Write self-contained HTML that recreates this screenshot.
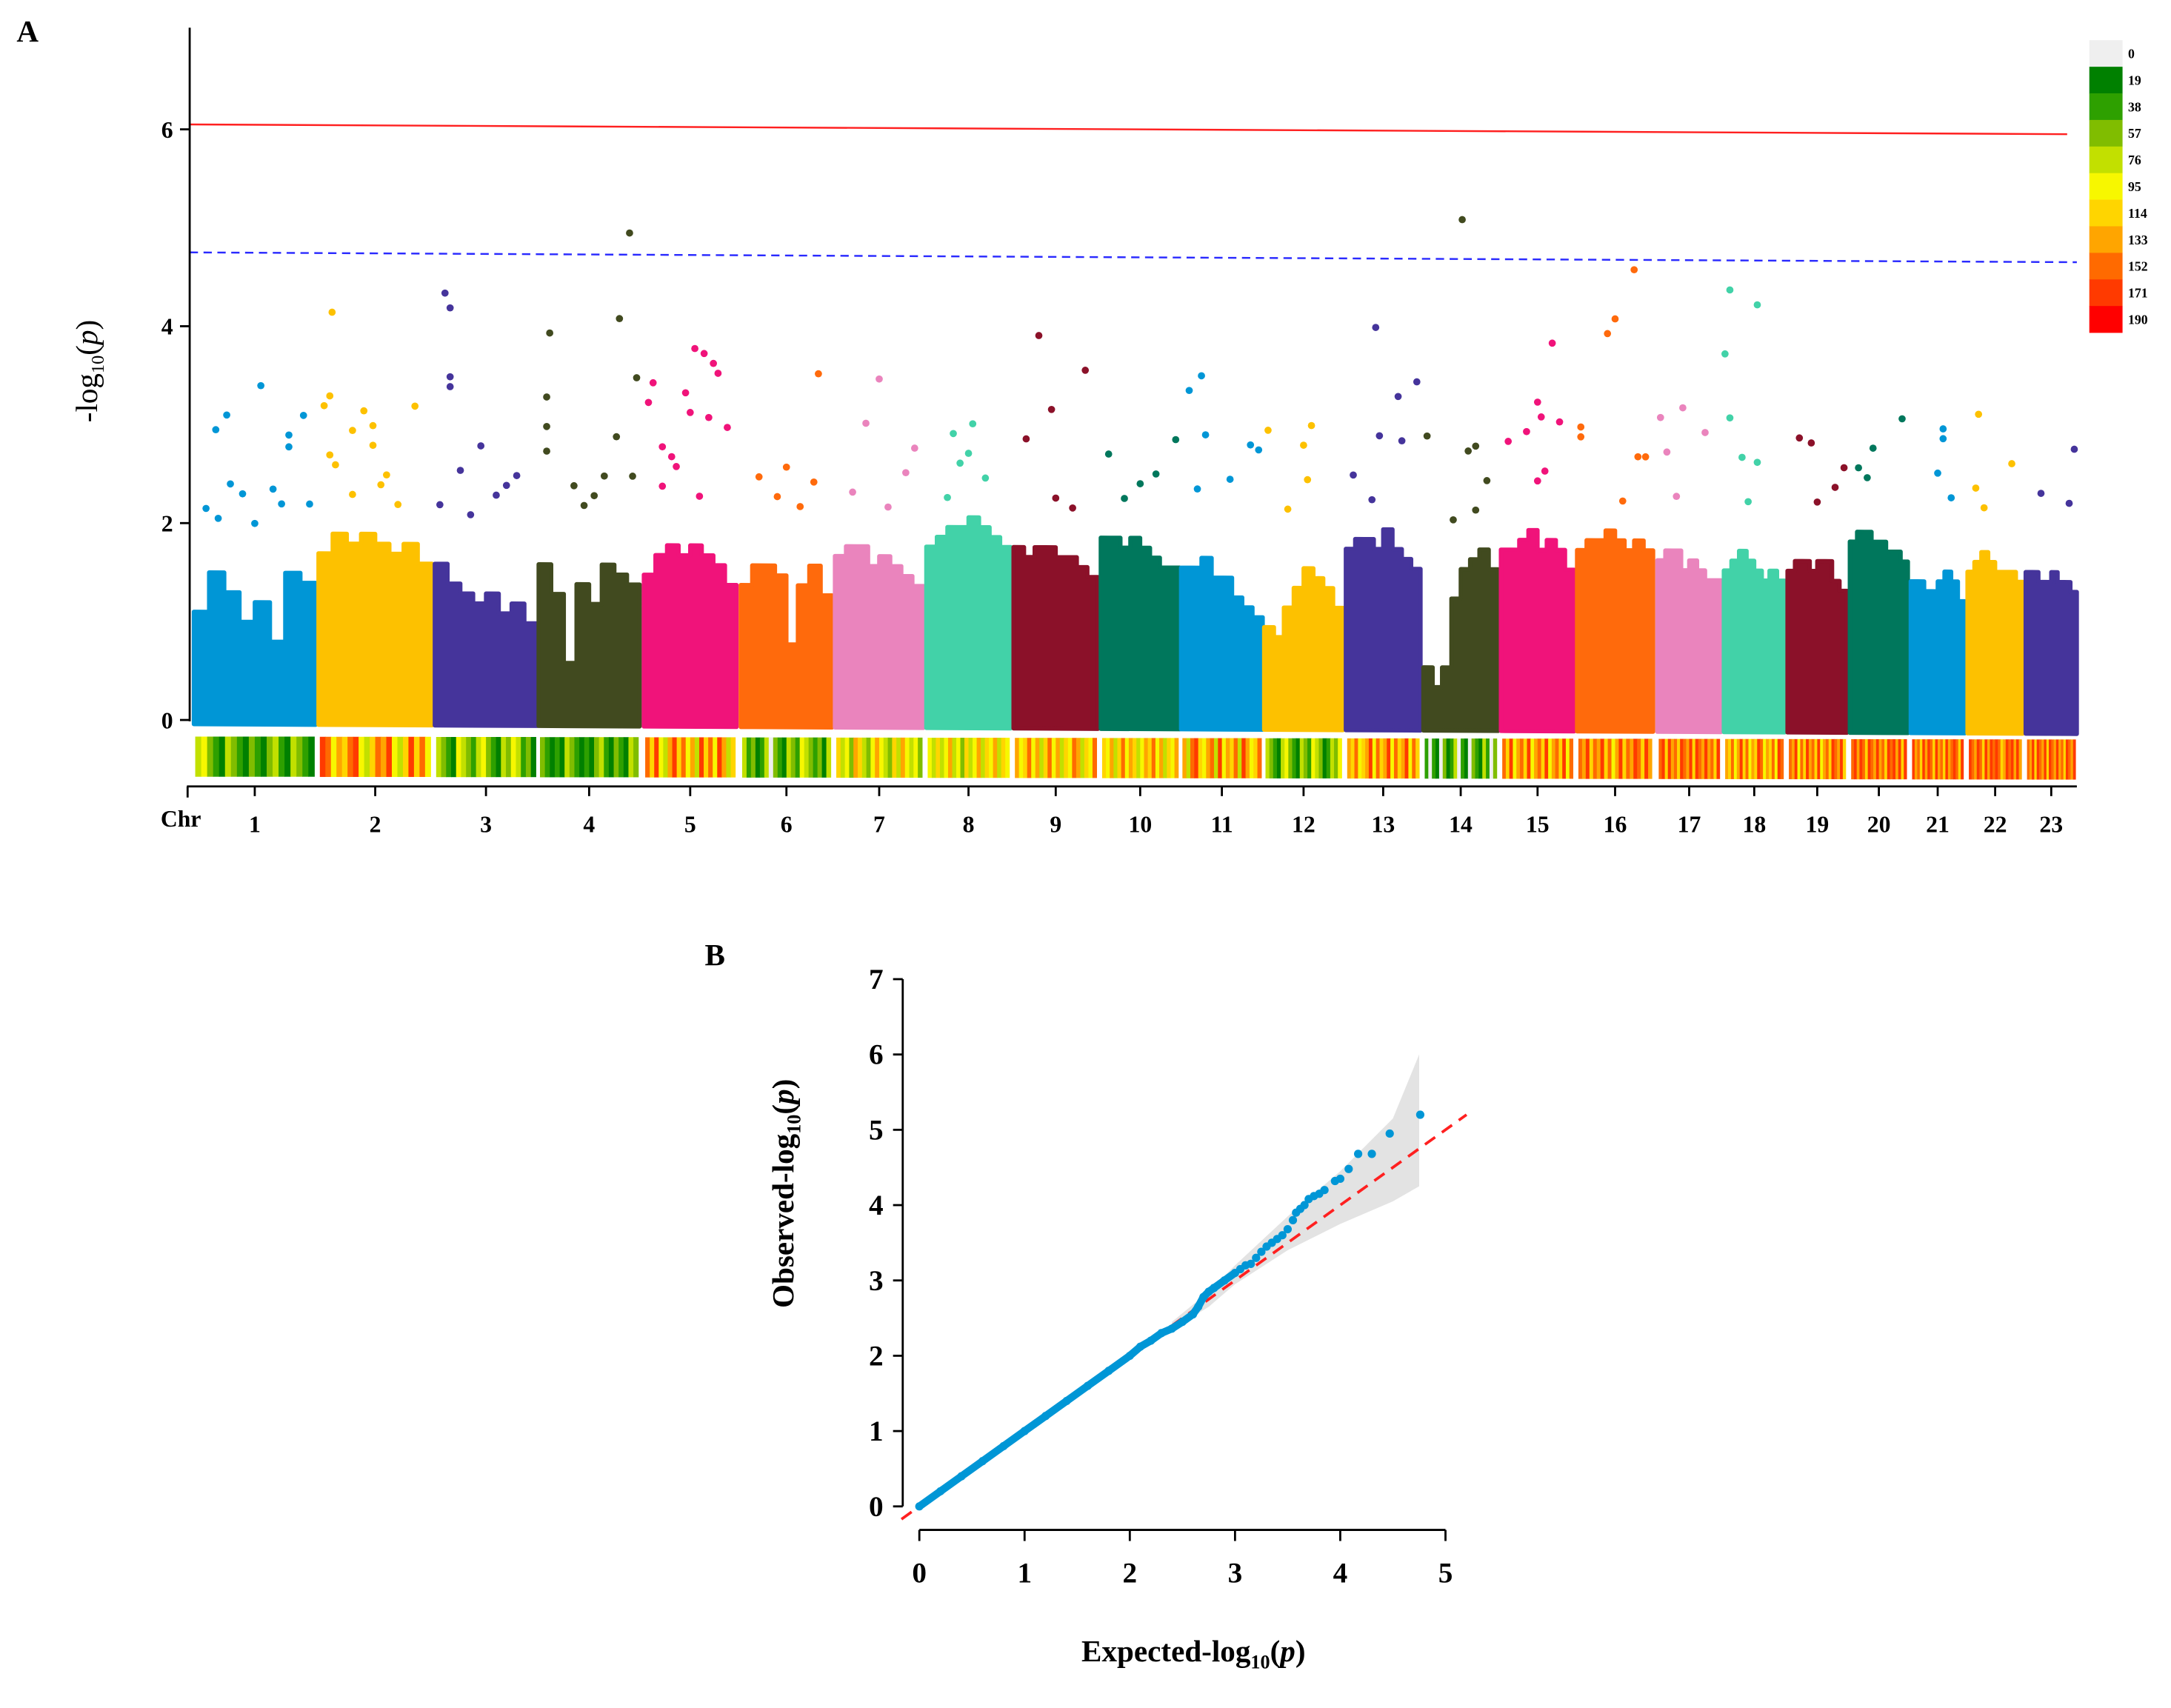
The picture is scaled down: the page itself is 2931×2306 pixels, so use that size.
<!DOCTYPE html>
<html><head><meta charset="utf-8">
<style>
html,body{margin:0;padding:0;background:#fff;}
svg{display:block;font-family:"Liberation Serif",serif;}
</style></head>
<body>
<svg id="fig" width="2931" height="2306" viewBox="0 0 1568 1233.6" xmlns="http://www.w3.org/2000/svg">
<g id="panelA"></g>
<g id="panelB"></g>
</svg>
<script>
// ---------- Manhattan data ----------
const chromLabels = ["1","2","3","4","5","6","7","8","9","10","11","12","13","14","15","16","17","18","19","20","21","22","23"];
const chromStart = [140,230,314,389,465,535,603,669,732,795,853,913,972,1028,1084,1139,1197,1245,1291,1336,1380,1421,1463];
const chromEnd   = [228,312,388,462,532,601,667,730,793,852,912,970,1026,1082,1137,1194,1243,1289,1334,1378,1419,1461,1500];
const chromColors = ["#0096d6","#fdc100","#45349b","#414a1f","#f0137a","#ff6a0c","#ea84bd","#42d2a8","#8b1129","#00775c"];
const bulkProfiles = [
 [1.1,1.5,1.3,1.0,1.2,0.8,1.5,1.4],[1.7,1.9,1.8,1.9,1.8,1.7,1.8,1.6],[1.6,1.4,1.3,1.2,1.3,1.1,1.2,1.0],
 [1.6,1.3,0.6,1.4,1.2,1.6,1.5,1.4],[1.5,1.7,1.8,1.7,1.8,1.7,1.6,1.4],[1.4,1.6,1.6,1.5,0.8,1.4,1.6,1.3],
 [1.7,1.8,1.8,1.6,1.7,1.6,1.5,1.4],[1.8,1.9,2.0,2.0,2.1,2.0,1.9,1.8],[1.8,1.7,1.8,1.8,1.7,1.7,1.6,1.5],
 [1.9,1.9,1.8,1.9,1.8,1.7,1.6,1.6],[1.6,1.6,1.7,1.5,1.5,1.3,1.2,1.1],[1.0,0.9,1.2,1.4,1.6,1.5,1.4,1.2],
 [1.8,1.9,1.9,1.8,2.0,1.8,1.7,1.6],[0.6,0.4,0.6,1.3,1.6,1.7,1.8,1.6],[1.8,1.8,1.9,2.0,1.8,1.9,1.8,1.6],
 [1.8,1.9,1.9,2.0,1.9,1.8,1.9,1.8],[1.7,1.8,1.8,1.6,1.7,1.6,1.5,1.5],[1.6,1.7,1.8,1.7,1.6,1.5,1.6,1.5],
 [1.6,1.7,1.7,1.6,1.7,1.7,1.5,1.4],[1.9,2.0,2.0,1.9,1.9,1.8,1.8,1.7],[1.5,1.5,1.4,1.4,1.5,1.6,1.5,1.3],
 [1.6,1.7,1.8,1.7,1.6,1.6,1.6,1.5],[1.6,1.6,1.5,1.5,1.6,1.5,1.5,1.4]];
const topHits = [
 [[0.55,3.4],[0.27,3.1],[0.18,2.95],[0.9,3.1],[0.78,2.9],[0.78,2.78],[0.3,2.4],[0.4,2.3],[0.65,2.35],[0.1,2.15],[0.95,2.2],[0.5,2.0],[0.2,2.05],[0.72,2.2]],
 [[0.12,4.15],[0.1,3.3],[0.05,3.2],[0.4,3.15],[0.85,3.2],[0.48,3.0],[0.3,2.95],[0.48,2.8],[0.1,2.7],[0.15,2.6],[0.55,2.4],[0.7,2.2],[0.3,2.3],[0.6,2.5]],
 [[0.1,4.35],[0.15,4.2],[0.15,3.5],[0.15,3.4],[0.45,2.8],[0.25,2.55],[0.8,2.5],[0.6,2.3],[0.05,2.2],[0.35,2.1],[0.7,2.4]],
 [[0.11,3.95],[0.08,3.3],[0.08,3.0],[0.08,2.75],[0.8,4.1],[0.77,2.9],[0.65,2.5],[0.35,2.4],[0.55,2.3],[0.93,2.5],[0.9,4.97],[0.97,3.5],[0.45,2.2]],
 [[0.55,3.8],[0.65,3.75],[0.75,3.65],[0.8,3.55],[0.1,3.45],[0.05,3.25],[0.45,3.35],[0.5,3.15],[0.7,3.1],[0.9,3.0],[0.2,2.8],[0.3,2.7],[0.35,2.6],[0.2,2.4],[0.6,2.3]],
 [[0.85,3.55],[0.5,2.6],[0.2,2.5],[0.8,2.45],[0.4,2.3],[0.65,2.2]],
 [[0.5,3.5],[0.35,3.05],[0.9,2.8],[0.8,2.55],[0.2,2.35],[0.6,2.2]],
 [[0.55,3.05],[0.32,2.95],[0.5,2.75],[0.4,2.65],[0.7,2.5],[0.25,2.3]],
 [[0.3,3.95],[0.85,3.6],[0.45,3.2],[0.15,2.9],[0.5,2.3],[0.7,2.2]],
 [[0.1,2.75],[0.7,2.55],[0.5,2.45],[0.95,2.9],[0.3,2.3]],
 [[0.25,3.55],[0.1,3.4],[0.3,2.95],[0.85,2.85],[0.95,2.8],[0.6,2.5],[0.2,2.4]],
 [[0.05,3.0],[0.6,3.05],[0.5,2.85],[0.55,2.5],[0.3,2.2]],
 [[0.4,4.05],[0.95,3.5],[0.7,3.35],[0.45,2.95],[0.75,2.9],[0.1,2.55],[0.35,2.3]],
 [[0.52,5.15],[0.05,2.95],[0.6,2.8],[0.7,2.85],[0.85,2.5],[0.7,2.2],[0.4,2.1]],
 [[0.7,3.9],[0.5,3.3],[0.55,3.15],[0.8,3.1],[0.35,3.0],[0.1,2.9],[0.6,2.6],[0.5,2.5]],
 [[0.75,4.65],[0.5,4.15],[0.4,4.0],[0.05,3.05],[0.05,2.95],[0.8,2.75],[0.9,2.75],[0.6,2.3]],
 [[0.4,3.25],[0.05,3.15],[0.75,3.0],[0.15,2.8],[0.3,2.35]],
 [[0.1,4.45],[0.55,4.3],[0.02,3.8],[0.1,3.15],[0.3,2.75],[0.55,2.7],[0.4,2.3]],
 [[0.2,2.95],[0.4,2.9],[0.95,2.65],[0.8,2.45],[0.5,2.3]],
 [[0.9,3.15],[0.4,2.85],[0.15,2.65],[0.3,2.55]],
 [[0.6,3.05],[0.6,2.95],[0.5,2.6],[0.75,2.35]],
 [[0.2,3.2],[0.8,2.7],[0.15,2.45],[0.3,2.25]],
 [[0.95,2.85],[0.3,2.4],[0.85,2.3]]];
const densityStripes = [
 "45321432132134214321","98576895468795469685","43215432453214354231","32121432121342132143","86954796857496859746",
 "42312403214325432314","64537643575436475453","54645745364574657465","75685746857465874658","65746857645768574657",
 "74896578495768497568","43214532143254312435","76856795867958679586","20210312402103214203","86957869578695786958",
 "87968796857968798697","89697869879698797869","76857968576985768598","87958697869578698796","89798698797869897969",
 "97869798697869789869","98798697989867989797","87969879698797869879"];
const legendLabels = ["0","19","38","57","76","95","114","133","152","171","190"];
const legendColors = ["#efefef","#008000","#2ea000","#80bd00","#c2e000","#f7f700","#ffd500","#ffa500","#ff6a00","#ff3a00","#ff0000"];
const yTicksA = [0,2,4,6];
const sigLine = 6.05, suggLine = 4.75;

// ---------- QQ data ----------
const qqExpected = [0,0.2,0.4,0.6,0.8,1.0,1.2,1.4,1.6,1.8,2.0,2.1,2.2,2.3,2.4,2.5,2.6,2.65,2.7,2.75,2.8,2.9,3.0,3.05,3.1,3.15,3.2,3.25,3.3,3.35,3.4,3.45,3.5,3.55,3.58,3.62,3.66,3.7,3.75,3.8,3.85,3.95,4.0,4.08,4.17,4.3,4.47,4.76];
const qqObserved = [0,0.2,0.4,0.6,0.8,1.0,1.2,1.4,1.6,1.8,2.0,2.12,2.2,2.3,2.36,2.45,2.55,2.65,2.78,2.85,2.9,3.0,3.1,3.15,3.2,3.22,3.3,3.38,3.45,3.5,3.55,3.6,3.68,3.8,3.9,3.95,4.0,4.08,4.12,4.15,4.2,4.32,4.35,4.48,4.68,4.68,4.95,5.2];
const bandX = [2.4,2.75,3.0,3.5,4.0,4.5,4.75];
const bandUpper = [2.45,2.85,3.2,3.85,4.45,5.15,6.0];
const bandLower = [2.35,2.65,2.95,3.4,3.75,4.05,4.25];
const qqXTicks = [0,1,2,3,4,5];
const qqYTicks = [0,1,2,3,4,5,6,7];

const NS="http://www.w3.org/2000/svg";
function mk(tag, attrs, parent, text){const e=document.createElementNS(NS,tag);for(const k in attrs)e.setAttribute(k,attrs[k]);if(text!==undefined)e.textContent=text;parent.appendChild(e);return e;}

// ---------- Panel A ----------
const A=document.getElementById('panelA');
const AX0=137, AXR=1500, AY0=520, AUNIT=71.1;
function tilt(x){return (x-AX0)*0.0052;}
function yA(v,x){return AY0 - v*AUNIT + tilt(x);}

let t=mk('text',{x:12,y:30,'font-size':22,'font-weight':'bold'},A,'A');



chromLabels.forEach((lab,i)=>{
  const g=mk('g',{},A);
  
  
  const col=chromColors[i%10], x0=chromStart[i], x1=chromEnd[i], w=x1-x0;
  const prof=bulkProfiles[i];
  let pts=[];
  pts.push(x0+','+(yA(0,x0)+3));
  prof.forEach((v,k)=>{const xa=x0+w*k/prof.length, xb=x0+w*(k+1)/prof.length;pts.push(xa+','+yA(v,xa));pts.push(xb+','+yA(v,xb));});
  pts.push(x1+','+(yA(0,x1)+3));
  const bulk=mk('polygon',{points:pts.join(' '),fill:col,stroke:col,'stroke-width':3,'stroke-linejoin':'round'},g);
  
  
  topHits[i].forEach(p=>{
    const cx=x0+w*p[0];
    const c=mk('circle',{cx:cx,cy:yA(p[1],cx),r:2.6,fill:col},g);
    
    
  });
  const sg=mk('g',{},A);
  
  
  const s=densityStripes[i], sw=(w-2)/s.length;
  for(let k=0;k<s.length;k++){
    const r=mk('rect',{x:x0+1+k*sw,y:532+tilt(x0)*0.3,width:sw+0.3,height:29,fill:legendColors[+s[k]]},sg);
    
    
  }
  const cxm=(x0+x1)/2;
  const tk=mk('line',{x1:cxm,x2:cxm,y1:568,y2:575,stroke:'#000','stroke-width':1.5},A);
  
  
  const tl=mk('text',{x:cxm,y:601,'font-size':17,'font-weight':'bold','text-anchor':'middle'},A,lab);
  
  
});

let l=mk('line',{x1:AX0,y1:yA(sigLine,AX0),x2:1493,y2:yA(sigLine,1493),stroke:'#ff2020','stroke-width':1.3},A);


l=mk('line',{x1:AX0,y1:yA(suggLine,AX0),x2:1500,y2:yA(suggLine,1500),stroke:'#2a2aff','stroke-width':1.3,'stroke-dasharray':'6,4'},A);



l=mk('line',{x1:AX0,y1:20,x2:AX0,y2:AY0+1,stroke:'#000','stroke-width':1.5},A);


yTicksA.forEach(v=>{
  const y=yA(v,AX0);
  const tk=mk('line',{x1:AX0-7,x2:AX0,y1:y,y2:y,stroke:'#000','stroke-width':1.5},A);
  
  
  const tl=mk('text',{x:AX0-12,y:y+6,'font-size':17,'font-weight':'bold','text-anchor':'end'},A,String(v));
  
  
});
t=mk('text',{x:0,y:0,'font-size':22,'text-anchor':'middle',transform:'translate(70,268) rotate(-90)'},A);


t.innerHTML='-log<tspan font-size="13" dy="5">10</tspan><tspan dy="-5">(</tspan><tspan font-style="italic">p</tspan>)';

l=mk('line',{x1:135,y1:568,x2:1500,y2:568,stroke:'#000','stroke-width':1.5},A);


l=mk('line',{x1:135.5,y1:568,x2:135.5,y2:576,stroke:'#000','stroke-width':1.5},A);


t=mk('text',{x:116,y:597,'font-size':17,'font-weight':'bold'},A,'Chr');



const lg=mk('g',{},A);


legendLabels.forEach((lab,k)=>{
  const y=29+k*19.2;
  const r=mk('rect',{x:1509,y:y,width:24,height:19.4,fill:legendColors[k]},lg);
  
  
  const tl=mk('text',{x:1537,y:y+13,'font-size':9.5,'font-weight':'bold'},lg,lab);
  
  
});

// ---------- Panel B ----------
const B=document.getElementById('panelB');
const BX0=664, BXU=76, BY0=1088, BYU=54.4, BAX=652, BAXY=1105;
function xB(v){return BX0+v*BXU;}
function yB(v){return BY0-v*BYU;}
t=mk('text',{x:509,y:697,'font-size':22,'font-weight':'bold'},B,'B');



let bp=[];
bandX.forEach((v,k)=>bp.push(xB(v)+','+yB(bandUpper[k])));
for(let k=bandX.length-1;k>=0;k--)bp.push(xB(bandX[k])+','+yB(bandLower[k]));
let poly=mk('polygon',{points:bp.join(' '),fill:'#d9d9d9','fill-opacity':0.75},B);



l=mk('line',{x1:xB(-0.17),y1:yB(-0.17),x2:xB(5.2),y2:yB(5.2),stroke:'#ff2020','stroke-width':2,'stroke-dasharray':'9,6'},B);



const qg=mk('g',{},B);


let dense=[];
qqExpected.forEach((v,k)=>{if(v<=3.0)dense.push(xB(v)+','+yB(qqObserved[k]));});
let pl=mk('polyline',{points:dense.join(' '),fill:'none',stroke:'#0096d6','stroke-width':5.5,'stroke-linecap':'round','stroke-linejoin':'round'},qg);


qqExpected.forEach((v,k)=>{
  const c=mk('circle',{cx:xB(v),cy:yB(qqObserved[k]),r:3,fill:'#0096d6'},qg);
  
  
});

l=mk('line',{x1:BAX,y1:yB(7),x2:BAX,y2:yB(0),stroke:'#000','stroke-width':1.5},B);


qqYTicks.forEach(v=>{
  const tk=mk('line',{x1:BAX-7,x2:BAX,y1:yB(v),y2:yB(v),stroke:'#000','stroke-width':1.5},B);
  
  
  const tl=mk('text',{x:BAX-14,y:yB(v)+7,'font-size':21,'font-weight':'bold','text-anchor':'end'},B,String(v));
  
  
});
l=mk('line',{x1:xB(0),y1:BAXY,x2:xB(5),y2:BAXY,stroke:'#000','stroke-width':1.5},B);


qqXTicks.forEach(v=>{
  const tk=mk('line',{x1:xB(v),x2:xB(v),y1:BAXY,y2:BAXY+8,stroke:'#000','stroke-width':1.5},B);
  
  
  const tl=mk('text',{x:xB(v),y:BAXY+38,'font-size':21,'font-weight':'bold','text-anchor':'middle'},B,String(v));
  
  
});
t=mk('text',{x:0,y:0,'font-size':22,'font-weight':'bold','text-anchor':'middle',transform:'translate(573,862) rotate(-90)'},B);


t.innerHTML='Observed-log<tspan font-size="14" dy="5">10</tspan><tspan dy="-5">(</tspan><tspan font-style="italic">p</tspan>)';
t=mk('text',{x:862,y:1200,'font-size':22,'font-weight':'bold','text-anchor':'middle'},B);


t.innerHTML='Expected-log<tspan font-size="14" dy="5">10</tspan><tspan dy="-5">(</tspan><tspan font-style="italic">p</tspan>)';
</script>
</body></html>
